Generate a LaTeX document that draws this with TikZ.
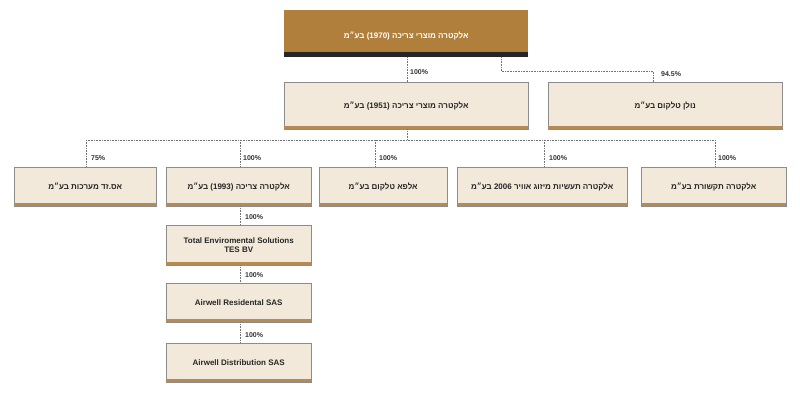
\documentclass[tikz,border=0pt]{standalone}
\usepackage{fontspec}
\setmainfont{Liberation Sans}
\newfontfamily\hebfont[Script=Hebrew]{Liberation Sans}
\TeXXeTstate=1
\newcommand{\heb}[1]{\hebfont\beginR #1\endR}
\newcommand{\lt}[1]{\beginL #1\endL{}}
\definecolor{boxfill}{HTML}{F3E9DA}
\definecolor{stripe}{HTML}{B58A55}
\definecolor{topfill}{HTML}{B07F3C}
\definecolor{edge}{HTML}{8C8C8C}
\tikzset{
  box/.style={draw=edge, fill=boxfill, anchor=north west, inner sep=2pt, align=center,
    font=\fontsize{8}{9.5}\selectfont\bfseries, text=black!85},
  link/.style={draw=black!55, densely dotted, line width=0.6pt},
  pct/.style={font=\fontsize{7}{8}\selectfont\bfseries, text=black!80, anchor=west, inner sep=1pt}
}
\newcommand{\bx}[6]{\node[box, minimum width=#4pt, minimum height=#5pt] (#1) at (#2pt,-#3pt) {#6};
  \fill[stripe] (#1.south west) rectangle ([yshift=3pt]#1.south east);}
\begin{document}
\begin{tikzpicture}[x=1pt,y=1pt]
\useasboundingbox (0,0) rectangle (800,-400);
% top
\node[box, draw=none, fill=topfill, minimum width=244pt, minimum height=47pt, text=white] (top) at (284pt,-10pt) {\raisebox{-12pt}{\heb{אלקטרה מוצרי צריכה \lt{(1970)} בע״מ}}};
\fill[black!85] (top.south west) rectangle ([yshift=5pt]top.south east);
% level 2
\bx{a}{284}{82}{244}{47}{\heb{אלקטרה מוצרי צריכה \lt{(1951)} בע״מ}}
\bx{b}{548}{82}{234}{47}{\heb{נולן טלקום בע״מ}}
% level 3
\bx{c1}{14}{167}{142}{39}{\heb{אס.זד מערכות בע״מ}}
\bx{c2}{166}{167}{145}{39}{\heb{אלקטרה צריכה \lt{(1993)} בע״מ}}
\bx{c3}{319}{167}{128}{39}{\heb{אלפא טלקום בע״מ}}
\bx{c4}{457}{167}{170}{39}{\heb{אלקטרה תעשיות מיזוג אוויר \lt{2006} בע״מ}}
\bx{c5}{641}{167}{145}{39}{\heb{אלקטרה תקשורת בע״מ}}
% level 4
\bx{d1}{166}{225}{145}{40}{Total Enviromental Solutions\\TES BV}
\bx{d2}{166}{283}{145}{39}{Airwell Residental SAS}
\bx{d3}{166}{343}{145}{39}{Airwell Distribution SAS}
% connectors
\coordinate (bus) at (407pt,-140pt);
\draw[link] (top.south -| bus) -- (a.north -| bus);
\node[pct] at (409pt,-72pt) {100\%};
\coordinate (tb) at (501pt,-71pt);
\draw[link] (top.south -| tb) -- (tb) -- (653pt,-71pt) -- (653pt,-82pt);
\node[pct] at (660pt,-74pt) {94.5\%};
\draw[link] (a.south -| bus) -- (bus);
\draw[link] (86pt,-140pt) -- (715pt,-140pt);
\foreach \n/\x in {c1/86,c2/240,c3/375,c4/544,c5/715}{
  \draw[link] (\x pt,-140pt) -- (\n.north -| {\x pt,0});
}
\node[pct] at (90pt,-158pt) {75\%};
\foreach \x in {242,378,548,717}{\node[pct] at (\x pt,-158pt) {100\%};}
\draw[link] (c2.south -| {240pt,0}) -- (d1.north -| {240pt,0});
\draw[link] (d1.south -| {240pt,0}) -- (d2.north -| {240pt,0});
\draw[link] (d2.south -| {240pt,0}) -- (d3.north -| {240pt,0});
\node[pct] at (244pt,-217pt) {100\%};
\node[pct] at (244pt,-275pt) {100\%};
\node[pct] at (244pt,-335pt) {100\%};
\end{tikzpicture}
\end{document}
